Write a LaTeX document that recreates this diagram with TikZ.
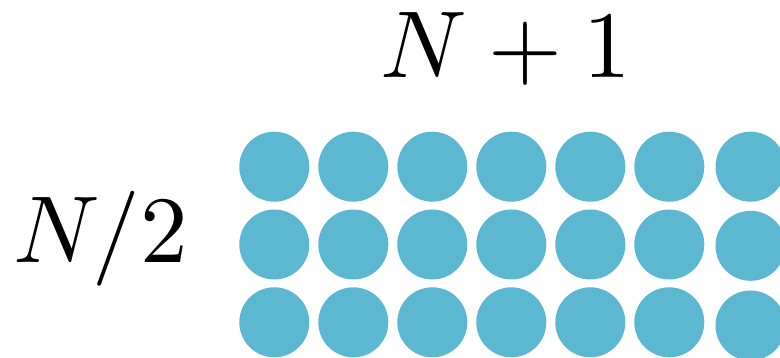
\RequirePackage{fix-cm}
\documentclass[tikz,border=0pt]{standalone}
\definecolor{dotblue}{RGB}{92,184,208}
\tikzset{
  dot/.style={circle, fill=dotblue, draw=none, minimum size=70pt, inner sep=0pt},
  lbl/.style={inner sep=0pt, font=\fontsize{10}{12}\selectfont, scale=9.5}
}
\begin{document}
\begin{tikzpicture}[x=1pt,y=-1pt]
\useasboundingbox (0,0) rectangle (780,358);
\clip (0,0) rectangle (780,358);
\foreach \i/\x in {1/274.3,2/353.3,3/432.3,4/511.3,5/590.3,6/669.3}{
  \foreach \j/\y in {1/166.7,2/244.5,3/322.3}{
    \node[dot] (c\i\j) at (\x,\y) {};
  }
}
\node[dot] (c71) at (750.5,166.7) {};
\node[dot] (c72) at (750.5,245.8) {};
\node[dot] (c73) at (750.5,325.5) {};
\node[lbl, anchor=base] (top) at (506,78) {$N+1$};
\node[lbl, anchor=base west] (left) at (12,263) {$N/2$};
\end{tikzpicture}
\end{document}
